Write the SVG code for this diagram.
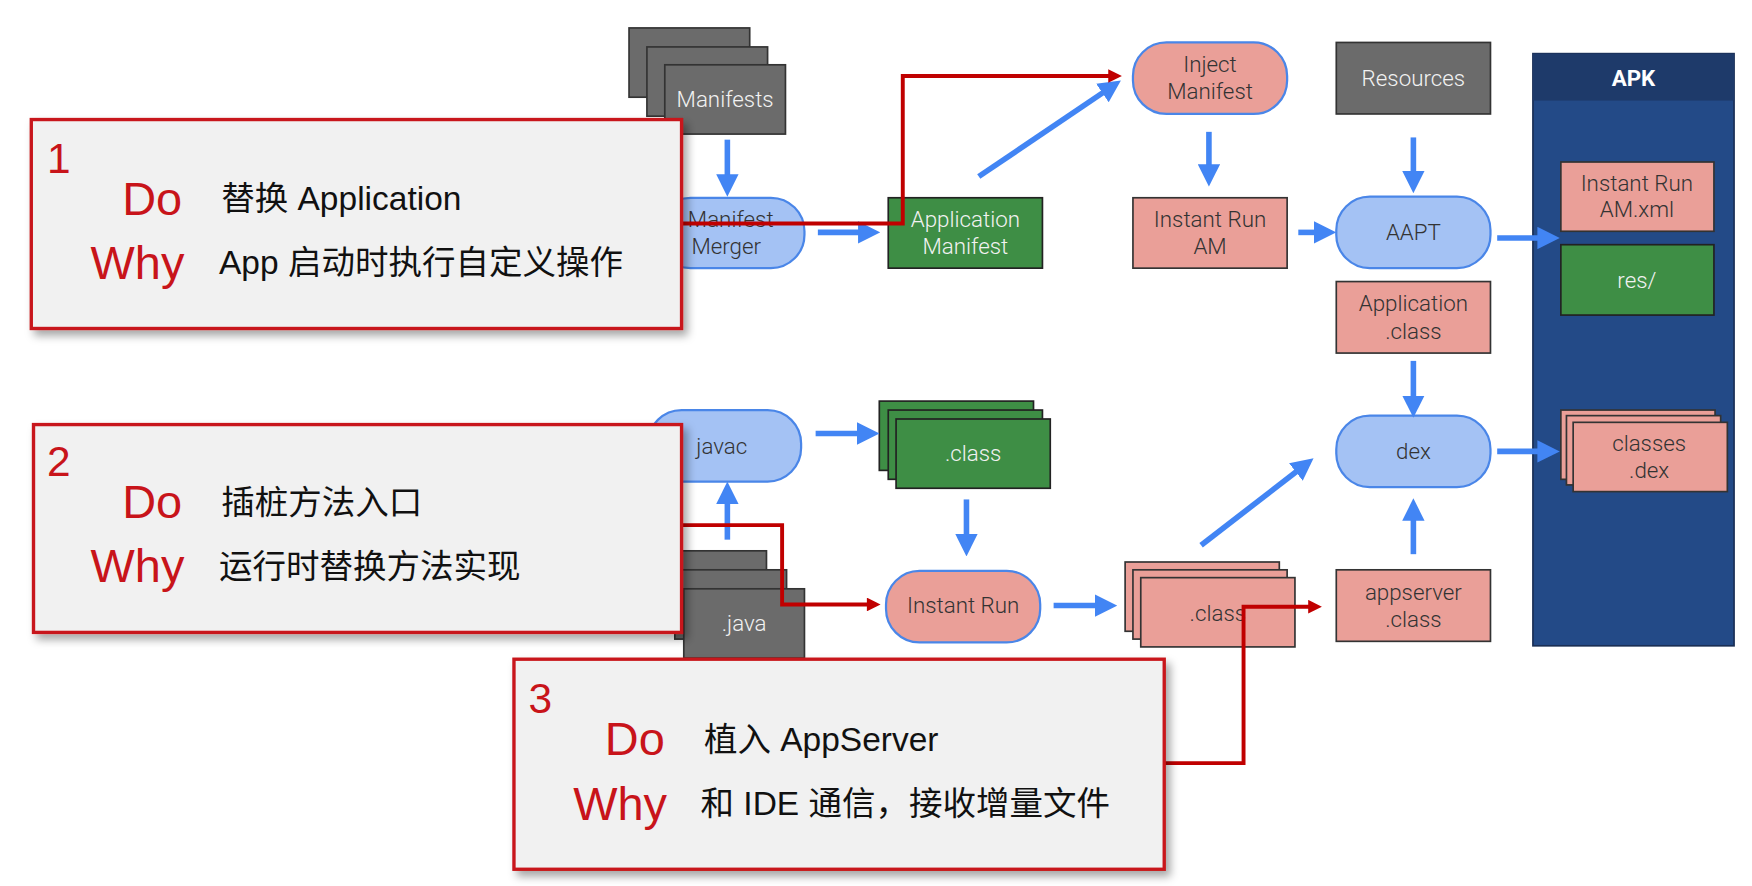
<svg xmlns="http://www.w3.org/2000/svg" width="1752" height="886" viewBox="0 0 1752 886">
<style>
.n{font-family:Roboto,"Liberation Sans",sans-serif;font-size:20px;text-anchor:middle;font-weight:300}
.w{fill:#f2f2f2}.k{fill:#333}
.grey{fill:#6b6b6b;stroke:#333;stroke-width:1.5}
.green{fill:#3e8e45;stroke:#222;stroke-width:1.5}
.sal{fill:#ea9f98;stroke:#333;stroke-width:1.5}
.pill{fill:#a4c2f4;stroke:#4a86e8;stroke-width:2}
.psal{fill:#ea9f98;stroke:#4a86e8;stroke-width:2}
.ba{stroke:#4285f4;stroke-width:5;fill:none;marker-end:url(#bh)}
.ra{stroke:#c00000;stroke-width:3.5;fill:none;marker-end:url(#rh)}
.co{fill:#f1f1f1;stroke:#c8141a;stroke-width:3}
.num{font-family:"Liberation Sans",sans-serif;font-size:38px;fill:#c8141a}
.dw{font-family:"Liberation Sans",sans-serif;font-size:42px;fill:#c8141a;text-anchor:end}
.cn{font-family:"Liberation Sans","Noto Sans CJK SC",sans-serif;font-size:30px;fill:#111}
</style>
<defs>
<marker id="bh" viewBox="0 0 10 10" refX="2" refY="5" markerWidth="4" markerHeight="4" orient="auto" markerUnits="strokeWidth"><path d="M0,0L10,5L0,10z" fill="#4285f4"/></marker>
<marker id="rh" viewBox="0 0 10 10" refX="5" refY="5" markerWidth="4.5" markerHeight="3.5" orient="auto" markerUnits="strokeWidth"><path d="M0,0L10,5L0,10z" fill="#c00000"/></marker>
<filter id="sh" x="-5%" y="-5%" width="112%" height="120%"><feDropShadow dx="4" dy="5" stdDeviation="4" flood-opacity="0.35"/></filter>
</defs>
<rect width="1752" height="886" fill="#fff"/>
<g transform="scale(1.1173)">
<g id="apk"><rect x="1372" y="48" width="180" height="530" fill="#234a87" stroke="#1a2f55" stroke-width="1.5"/><rect x="1372" y="48" width="180" height="42" fill="#1e3a6a"/><text x="1462" y="77" class="n" style="fill:#fff;font-weight:bold">APK</text></g>
<g id="manifests"><rect x="563" y="25" width="108" height="62" class="grey"/><rect x="579" y="42" width="108" height="62" class="grey"/><rect x="595" y="58" width="108" height="62" class="grey"/><text x="649" y="96" class="n w">Manifests</text></g>
<g id="merger"><rect x="588" y="177" width="132" height="63" rx="30" class="pill"/><text x="654" y="203" class="n k">Manifest</text><text x="650" y="227" class="n k">Merger</text></g>
<g id="appmanifest"><rect x="795" y="177" width="138" height="63" class="green"/><text x="864" y="203" class="n w">Application</text><text x="864" y="227" class="n w">Manifest</text></g>
<g id="inject"><rect x="1014" y="38" width="138" height="64" rx="30" class="psal"/><text x="1083" y="64" class="n k">Inject</text><text x="1083" y="89" class="n k">Manifest</text></g>
<g id="iram"><rect x="1014" y="177" width="138" height="63" class="sal"/><text x="1083" y="203" class="n k">Instant Run</text><text x="1083" y="227" class="n k">AM</text></g>
<g id="resources"><rect x="1196" y="38" width="138" height="64" class="grey"/><text x="1265" y="77" class="n w">Resources</text></g>
<g id="aapt"><rect x="1196" y="176" width="138" height="64" rx="30" class="pill"/><text x="1265" y="215" class="n k">AAPT</text></g>
<g id="appclass"><rect x="1196" y="252" width="138" height="64" class="sal"/><text x="1265" y="278" class="n k">Application</text><text x="1265" y="303" class="n k">.class</text></g>
<g id="dex"><rect x="1196" y="372" width="138" height="64" rx="30" class="pill"/><text x="1265" y="411" class="n k">dex</text></g>
<g id="appserver"><rect x="1196" y="510" width="138" height="64" class="sal"/><text x="1265" y="537" class="n k">appserver</text><text x="1265" y="561" class="n k">.class</text></g>
<g id="iramxml"><rect x="1397" y="145" width="137" height="62" class="sal"/><text x="1465" y="171" class="n k">Instant Run</text><text x="1465" y="194" class="n k">AM.xml</text></g>
<g id="res"><rect x="1397" y="219" width="137" height="63" class="green"/><text x="1465" y="258" class="n w">res/</text></g>
<g id="classesdex"><rect x="1397" y="367" width="138" height="62" class="sal"/><rect x="1402" y="372" width="138" height="62" class="sal"/><rect x="1408" y="378" width="138" height="62" class="sal"/><text x="1476" y="404" class="n k">classes</text><text x="1476" y="428" class="n k">.dex</text></g>
<g id="javac"><rect x="580" y="367" width="137" height="64" rx="30" class="pill"/><text x="646" y="406" class="n k">javac</text></g>
<g id="classg"><rect x="787" y="359" width="138" height="62" class="green"/><rect x="795" y="367" width="138" height="62" class="green"/><rect x="802" y="375" width="138" height="62" class="green"/><text x="871" y="413" class="n w">.class</text></g>
<g id="java"><rect x="596" y="493" width="90" height="62" class="grey"/><rect x="604" y="510" width="100" height="62" class="grey"/><rect x="612" y="527" width="108" height="62" class="grey"/><text x="666" y="565" class="n w">.java</text></g>
<g id="instantrun"><rect x="793" y="511" width="138" height="64" rx="30" class="psal"/><text x="862" y="549" class="n k">Instant Run</text></g>
<g id="classs"><rect x="1007" y="503" width="138" height="62" class="sal"/><rect x="1014" y="510" width="138" height="62" class="sal"/><rect x="1021" y="517" width="138" height="62" class="sal"/><text x="1090" y="556" class="n k">.class</text></g>
<g id="connectors">
<path class="ba" d="M651,125V160"/><path class="ba" d="M732,208H772"/><path class="ba" d="M876,158L990,81"/>
<path class="ba" d="M1082,118V151"/><path class="ba" d="M1162,208H1180"/><path class="ba" d="M1265,123V157"/>
<path class="ba" d="M1340,213H1380"/><path class="ba" d="M1265,323V358"/><path class="ba" d="M1265,496V462"/>
<path class="ba" d="M1340,404H1380"/><path class="ba" d="M651,483V447"/><path class="ba" d="M730,388H771"/>
<path class="ba" d="M865,447V482"/><path class="ba" d="M943,542H984"/><path class="ba" d="M1075,488L1163,420"/>
<path class="ra" d="M600,200H808V68H998"/><path class="ra" d="M600,470H700V541H782"/><path class="ra" d="M1040,683H1113V543H1177"/>
</g>
<g id="callout1"><rect x="28" y="107" width="582" height="187" class="co" filter="url(#sh)"/><text x="42" y="155" class="num">1</text><text x="163" y="192" class="dw">Do</text><text x="165" y="250" class="dw">Why</text><text x="198" y="188" class="cn">替换 Application</text><text x="196" y="245" class="cn">App 启动时执行自定义操作</text></g>
<g id="callout2"><rect x="30" y="380" width="580" height="186" class="co" filter="url(#sh)"/><text x="42" y="426" class="num">2</text><text x="163" y="464" class="dw">Do</text><text x="165" y="521" class="dw">Why</text><text x="198" y="460" class="cn">插桩方法入口</text><text x="196" y="517" class="cn">运行时替换方法实现</text></g>
<g id="callout3"><rect x="460" y="590" width="582" height="188" class="co" filter="url(#sh)"/><text x="473" y="638" class="num">3</text><text x="595" y="676" class="dw">Do</text><text x="597" y="734" class="dw">Why</text><text x="630" y="672" class="cn">植入 AppServer</text><text x="627" y="729" class="cn">和 IDE 通信，接收增量文件</text></g>
</g>
</svg>
